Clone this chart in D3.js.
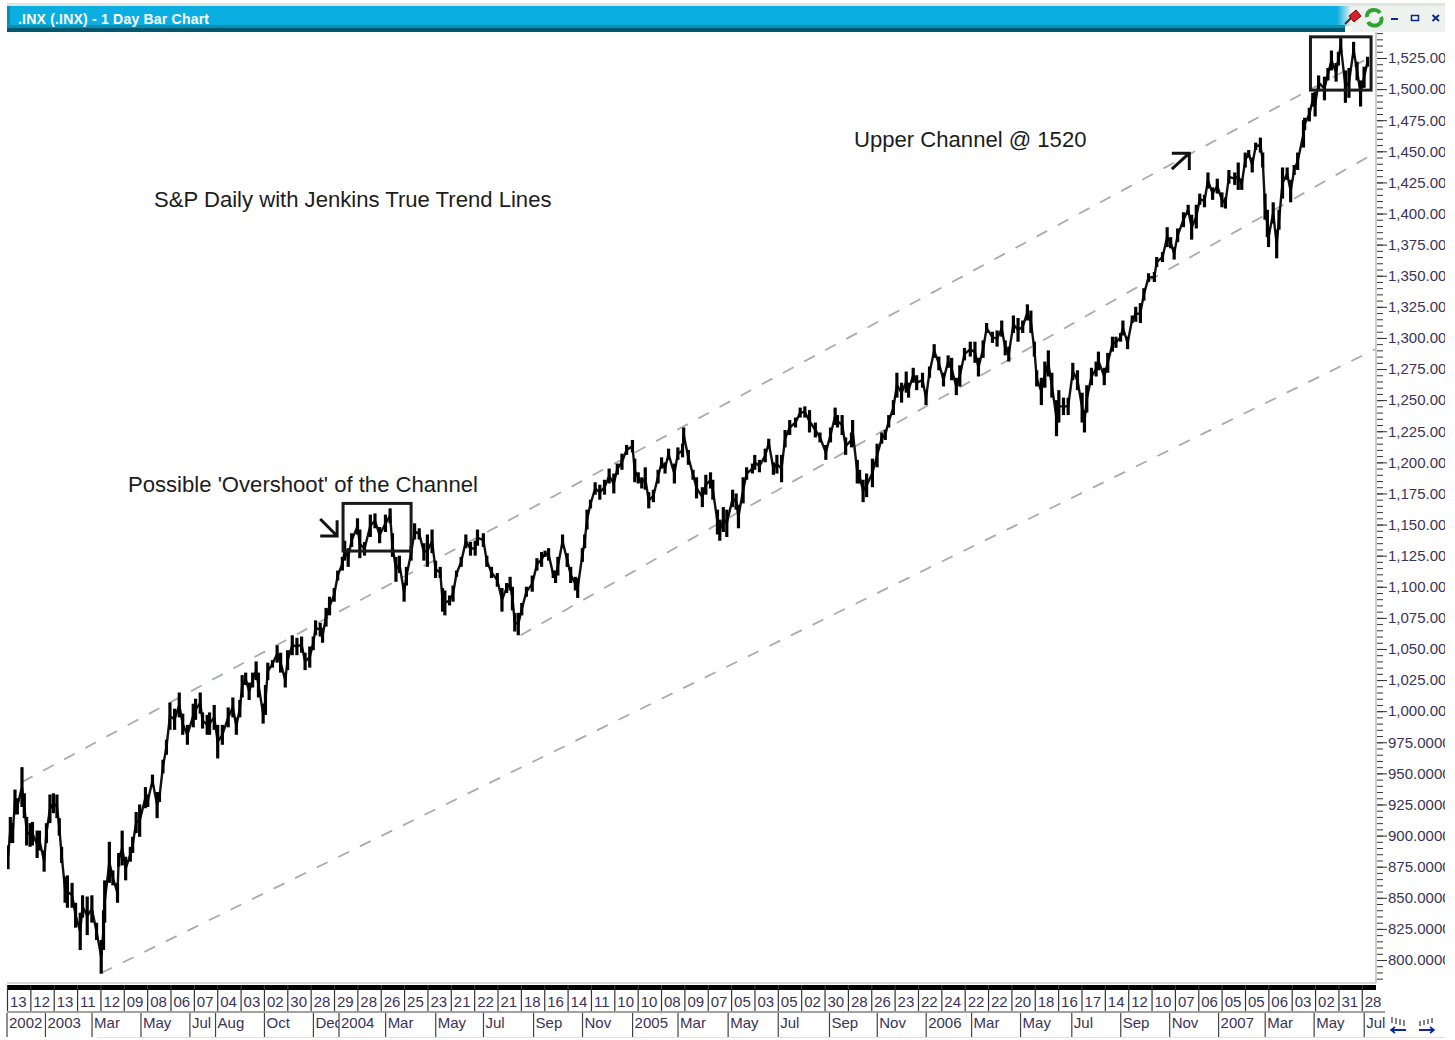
<!DOCTYPE html>
<html><head><meta charset="utf-8">
<script src="https://d3js.org/d3.v7.min.js"></script>
<style>html,body{margin:0;padding:0;background:#fff}svg{display:block}text{font-family:"Liberation Sans",Arial,sans-serif}</style>
</head><body><svg id="c" width="1455" height="1040"></svg>
<script>
// [session, high, low], kept as separate lists
const barData = `0,892,873 2,915,894 4,910,894 6,937,917 8,930,917 12,955,923 14,934,914 16,915,892 19,910,891 21,911,892 25,904,882 27,904,888 31,888,871 33,910,894 36,933,910 39,934,918 42,933,914 44,914,900 46,891,878 49,867,846 51,868,842 55,862,842 58,846,826 62,838,808 64,852,834 68,851,820 72,852,830 76,830,816 80,816,789 82,840,808 83,864,830 87,895,862 90,872,860 94,862,846 95,886,875 98,904,876 101,883,864 105,891,879 107,899,886 110,919,902 113,925,899 118,939,922 120,933,923 124,949,939 128,935,914 130,935,927 133,961,950 136,977,965 139,1007,985 143,1002,985 147,1015,995 150,998,981 154,989,973 159,1006,987 161,1010,993 165,1015,998 167,999,986 171,997,981 173,999,981 177,1005,985 180,989,962 184,989,973 189,1003,987 193,1011,995 196,995,981 199,1009,995 201,1029,1011 204,1031,1021 207,1023,1009 210,1031,1019 213,1040,1025 215,1031,1011 219,1006,990 221,1021,997 223,1039,1025 227,1041,1035 231,1053,1039 234,1047,1031 238,1031,1019 240,1049,1033 244,1061,1045 248,1059,1045 252,1060,1047 255,1047,1033 259,1052,1035 262,1060,1049 264,1073,1061 268,1071,1060 270,1067,1055 273,1083,1068 276,1092,1077 280,1099,1088 283,1113,1105 287,1124,1113 289,1137,1121 292,1131,1116 295,1143,1132 300,1155,1142 302,1146,1123 306,1136,1125 311,1158,1140 315,1159,1147 319,1148,1135 324,1158,1144 328,1163,1151 330,1143,1124 333,1124,1104 336,1125,1111 340,1103,1088 342,1116,1101 346,1133,1121 349,1151,1138 353,1147,1138 357,1135,1121 360,1142,1116 364,1146,1127 367,1121,1107 371,1116,1107 373,1099,1080 375,1097,1077 379,1093,1085 382,1101,1088 385,1113,1108 389,1124,1116 393,1142,1131 397,1136,1125 401,1137,1125 403,1146,1133 408,1143,1132 411,1125,1116 415,1116,1107 420,1111,1100 424,1099,1080 428,1103,1095 431,1108,1097 433,1100,1081 435,1079,1064 438,1079,1061 441,1087,1077 445,1100,1092 450,1109,1096 454,1123,1113 458,1128,1116 461,1129,1124 464,1131,1121 468,1113,1107 470,1113,1103 472,1124,1109 476,1142,1131 480,1127,1116 483,1116,1103 487,1108,1097 489,1107,1091 493,1131,1120 495,1142,1131 497,1162,1146 500,1170,1163 504,1184,1174 508,1182,1170 512,1186,1174 516,1195,1183 520,1191,1175 523,1199,1190 527,1207,1194 531,1214,1206 536,1218,1208 538,1203,1184 541,1192,1183 544,1188,1179 547,1196,1178 550,1176,1163 554,1178,1168 558,1194,1183 561,1204,1195 564,1200,1191 567,1211,1202 572,1199,1183 575,1212,1202 579,1215,1204 580,1228,1216 584,1210,1198 588,1194,1186 591,1188,1171 596,1180,1164 599,1190,1174 603,1192,1179 605,1186,1170 609,1162,1142 611,1154,1137 614,1164,1144 617,1162,1140 622,1178,1164 625,1175,1162 627,1166,1147 631,1188,1167 634,1196,1186 639,1199,1191 641,1206,1194 645,1202,1192 650,1211,1200 653,1219,1212 657,1200,1190 660,1206,1191 664,1206,1184 667,1226,1212 671,1234,1222 676,1236,1228 680,1244,1236 684,1245,1236 688,1242,1224 693,1232,1220 697,1224,1216 702,1214,1202 706,1228,1216 710,1244,1230 712,1238,1228 716,1238,1222 719,1220,1206 724,1224,1212 725,1234,1216 729,1202,1183 731,1194,1183 734,1186,1168 737,1191,1172 742,1203,1180 746,1215,1196 750,1224,1215 753,1226,1218 756,1238,1228 760,1250,1238 763,1272,1252 767,1264,1248 771,1273,1256 773,1264,1252 777,1276,1264 780,1270,1258 785,1272,1260 788,1258,1246 791,1277,1268 795,1295,1284 799,1285,1274 803,1272,1261 807,1286,1276 810,1284,1266 814,1268,1254 817,1278,1261 821,1292,1282 826,1297,1285 830,1297,1280 833,1284,1269 837,1298,1284 840,1312,1304 845,1305,1296 849,1306,1293 853,1314,1301 856,1298,1286 859,1293,1281 863,1318,1304 867,1316,1297 871,1314,1304 875,1327,1314 878,1322,1304 881,1297,1285 883,1274,1261 887,1268,1246 890,1281,1260 893,1290,1269 896,1272,1252 900,1250,1221 902,1258,1232 906,1252,1238 910,1252,1238 914,1280,1266 918,1274,1258 922,1256,1232 924,1242,1224 926,1262,1240 930,1276,1262 934,1281,1269 936,1289,1274 941,1276,1262 944,1288,1272 948,1301,1289 951,1301,1292 955,1304,1297 957,1314,1302 961,1301,1291 965,1318,1312 968,1325,1313 972,1328,1312 975,1340,1330 979,1352,1345 984,1353,1345 986,1365,1357 991,1369,1361 995,1389,1373 998,1381,1372 1001,1373,1363 1004,1388,1377 1009,1401,1389 1013,1407,1399 1016,1399,1379 1020,1407,1388 1023,1416,1407 1027,1415,1405 1030,1433,1420 1034,1421,1411 1038,1428,1416 1042,1417,1405 1045,1413,1404 1048,1435,1424 1053,1433,1423 1056,1441,1419 1059,1428,1419 1062,1449,1437 1065,1451,1445 1068,1445,1433 1071,1457,1451 1075,1461,1449 1077,1449,1437 1079,1416,1395 1081,1403,1381 1082,1389,1373 1086,1409,1392 1089,1387,1364 1091,1403,1387 1094,1437,1412 1098,1437,1427 1101,1427,1409 1104,1439,1431 1107,1449,1435 1112,1475,1453 1113,1477,1467 1117,1485,1474 1120,1497,1486 1122,1498,1478 1125,1511,1499 1130,1510,1491 1133,1517,1507 1136,1531,1515 1140,1521,1506 1142,1530,1519 1144,1541,1529 1148,1515,1489 1151,1517,1493 1155,1538,1525 1158,1522,1507 1161,1507,1486 1164,1518,1501 1167,1526,1518`;
const rows = barData.split(" ").map(r => r.split(",").map(Number));
const sessions = rows.map(r => r[0]);
const highs = rows.map(r => r[1]);
const lows = rows.map(r => r[2]);

const priceTicks = d3.range(800, 1526, 25);
const minorTicks = d3.range(785, 1546, 5);
const dayLabels = ["13","12","13","11","12","09","08","06","07","04","03","02","30","28","29","28","26","25","23","21","22","21","18","16","14","11","10","10","08","09","07","05","03","05","02","30","28","26","23","22","24","22","22","20","18","16","17","14","12","10","07","06","05","05","06","03","02","31","28"];
const dayStep = 20.05;
const monthLabels = ["2002","2003","Mar","May","Jul","Aug","Oct","Dec","2004","Mar","May","Jul","Sep","Nov","2005","Mar","May","Jul","Sep","Nov","2006","Mar","May","Jul","Sep","Nov","2007","Mar","May","Jul"];
const monthSessions = [0,33,73,115,157,179,221,263,285,325,368,409,452,494,537,576,619,662,706,747,789,828,870,914,956,998,1040,1080,1122,1165];
// trend lines: [session, price] ends
const trendLines = [
  [[12,943],[1170,1526]],
  [[440,1061],[1174,1449]],
  [[80,789.5],[1174,1291]]
];
const boxes = [
  {s0:287.6,s1:346,hi:1167,lo:1128.7},
  {s0:1118,s1:1170,hi:1542,lo:1499.2}
];
const arrows = [
  {from:[268,1154.5],to:[282.5,1140.8],corner:[[282.5,1153.5],[268,1140.8]]},
  {from:[999,1435.7],to:[1014,1448.5],corner:[[999,1448.5],[1014,1435]]}
];
const notes = [
  {t:"S&P Daily with Jenkins True Trend Lines",x:154,y:207},
  {t:"Upper Channel @ 1520",x:854,y:147},
  {t:"Possible 'Overshoot' of the Channel",x:128,y:492}
];

const svg = d3.select("#c");
const x = d3.scaleLinear().domain([0,1167]).range([8,8+1.165*1167]);
const y = d3.scaleLinear().domain([800,1525]).range([960,58]);

// title bar
const defs = svg.append("defs");
const g1 = defs.append("linearGradient").attr("id","fade");
g1.append("stop").attr("offset",0).attr("stop-color","#0aaee0");
g1.append("stop").attr("offset",1).attr("stop-color","#e9efea");
defs.append("clipPath").attr("id","axClip").append("rect").attr("x",1376).attr("y",32).attr("width",69).attr("height",960);
defs.append("clipPath").attr("id","plotClip").append("rect").attr("x",7).attr("y",32).attr("width",1369).attr("height",950);

svg.append("rect").attr("x",7).attr("y",3).attr("width",1438).attr("height",3).attr("fill","#dfe6df");
svg.append("rect").attr("x",7).attr("y",6).attr("width",1330).attr("height",20).attr("fill","#0aaee0");
svg.append("rect").attr("x",1337).attr("y",6).attr("width",14).attr("height",20).attr("fill","url(#fade)");
svg.append("rect").attr("x",1351).attr("y",6).attr("width",94).attr("height",26).attr("fill","#eef2ee");
svg.append("rect").attr("x",7).attr("y",25).attr("width",1338).attr("height",3).attr("fill","#0b8fb0");
svg.append("rect").attr("x",7).attr("y",28).attr("width",1338).attr("height",4).attr("fill","#00586e");
svg.append("rect").attr("x",7).attr("y",6).attr("width",3).attr("height",22).attr("fill","#0b8fb0");
svg.append("text").attr("x",18).attr("y",24).attr("fill","#fff").attr("font-size",14).attr("font-weight","bold")
  .attr("textLength",191).text(".INX (.INX) - 1 Day Bar Chart");

// window buttons
svg.append("path").attr("d","M1345 24 L1352 17").attr("stroke","#333").attr("stroke-width",2);
svg.append("path").attr("d","M1349 16 L1356 10 L1361 16 L1354 22 Z").attr("fill","#d8202a").attr("stroke","#700");
svg.append("path").attr("d","M1367 17 A7 6 0 0 1 1380 13").attr("fill","none").attr("stroke","#2fa32f").attr("stroke-width",4);
svg.append("path").attr("d","M1381 17 A7 6 0 0 1 1368 22").attr("fill","none").attr("stroke","#2fa32f").attr("stroke-width",4);
svg.append("rect").attr("x",1391).attr("y",18).attr("width",7).attr("height",2).attr("fill","#0b2a86");
svg.append("rect").attr("x",1411.5).attr("y",15.5).attr("width",7).attr("height",5).attr("fill","none").attr("stroke","#0b2a86").attr("stroke-width",1.5);
svg.append("path").attr("d","M1432.5 15 L1439 21 M1439 15 L1432.5 21").attr("stroke","#0b2a86").attr("stroke-width",2);

// plot
const plot = svg.append("g").attr("clip-path","url(#plotClip)");
plot.selectAll("line.trend").data(trendLines).join("line").attr("class","trend")
  .attr("x1",d=>x(d[0][0])).attr("y1",d=>y(d[0][1])).attr("x2",d=>x(d[1][0])).attr("y2",d=>y(d[1][1]))
  .attr("stroke","#a6aea6").attr("stroke-width",1.8).attr("stroke-dasharray","12 12");

const mid = sessions.map((s,i)=>[s,(highs[i]+lows[i])/2]);
plot.append("path").attr("d",d3.line().x(d=>x(d[0])).y(d=>y(d[1]))(mid))
  .attr("fill","none").attr("stroke","#111").attr("stroke-width",2.4);
plot.selectAll("line.bar").data(sessions).join("line").attr("class","bar")
  .attr("x1",d=>x(d)).attr("x2",d=>x(d))
  .attr("y1",(d,i)=>y(highs[i])).attr("y2",(d,i)=>y(lows[i]))
  .attr("stroke","#000").attr("stroke-width",3.2);

// boxes, arrows, notes
svg.selectAll("rect.box").data(boxes).join("rect").attr("class","box")
  .attr("x",d=>x(d.s0)).attr("width",d=>x(d.s1)-x(d.s0))
  .attr("y",d=>y(d.hi)).attr("height",d=>y(d.lo)-y(d.hi))
  .attr("fill","none").attr("stroke","#1a1a1a").attr("stroke-width",3);
arrows.forEach(a=>{
  const p=([s,v])=>x(s)+","+y(v);
  svg.append("path").attr("d","M"+p(a.from)+"L"+p(a.to)+"M"+p(a.corner[0])+"L"+p(a.to)+"L"+p(a.corner[1]))
    .attr("fill","none").attr("stroke","#111").attr("stroke-width",3);
});
svg.selectAll("text.note").data(notes).join("text").attr("class","note")
  .attr("x",d=>d.x).attr("y",d=>d.y).attr("font-size",22.1).attr("fill","#1c1c1c").text(d=>d.t);

// y axis
svg.append("line").attr("x1",1376).attr("x2",1376).attr("y1",32).attr("y2",983).attr("stroke","#bdbdbd").attr("stroke-width",1.5);
const fmtP = v => v>=1000 ? d3.format(",.2f")(v) : d3.format(".4f")(v);
const axG = svg.append("g").attr("clip-path","url(#axClip)");
const minorAxis = axG.append("g").attr("transform","translate(1377,0)")
  .call(d3.axisRight(y).tickValues(minorTicks).tickSize(6).tickFormat(""));
minorAxis.select(".domain").remove();
minorAxis.selectAll("line").attr("stroke","#333");
const majorAxis = axG.append("g").attr("transform","translate(1377,0)")
  .call(d3.axisRight(y).tickValues(priceTicks).tickSize(10).tickPadding(1).tickFormat(fmtP));
majorAxis.select(".domain").remove();
majorAxis.selectAll("line").attr("stroke","#333");
majorAxis.selectAll("text").attr("font-size",15).attr("fill","#3a3358").attr("font-family",'"Liberation Sans",Arial,sans-serif');

// x axis rows
svg.append("line").attr("x1",7).attr("x2",1376).attr("y1",983).attr("y2",983).attr("stroke","#c8c8c8").attr("stroke-width",1.5);
svg.append("rect").attr("x",7).attr("y",985).attr("width",1369).attr("height",5).attr("fill","#000");
const dayG = svg.append("g");
dayG.selectAll("line").data(dayLabels).join("line")
  .attr("x1",(d,i)=>x(i*dayStep)-0.5).attr("x2",(d,i)=>x(i*dayStep)-0.5).attr("y1",985).attr("y2",1011)
  .attr("stroke","#333").attr("stroke-width",1.2);
dayG.selectAll("text").data(dayLabels).join("text")
  .attr("x",(d,i)=>x(i*dayStep)+2).attr("y",1007).attr("font-size",15).attr("fill","#3a3358").text(d=>d);
svg.append("line").attr("x1",7).attr("x2",1385).attr("y1",1012).attr("y2",1012).attr("stroke","#444").attr("stroke-width",1.2);
const mo = svg.append("g").selectAll("g").data(monthLabels).join("g")
  .attr("transform",(d,i)=>`translate(${x(monthSessions[i])-1},1013)`);
mo.append("rect").attr("width",(d,i)=>(i<monthLabels.length-1?x(monthSessions[i+1])-x(monthSessions[i]):20)).attr("height",24).attr("fill","#fff");
mo.append("line").attr("y1",0).attr("y2",24).attr("stroke","#444").attr("stroke-width",1.2);
mo.append("text").attr("x",2).attr("y",15).attr("font-size",15).attr("fill","#3a3358").text(d=>d);

// scroll icons
[1391,1419].forEach((ox,k)=>{
  const ic=svg.append("g").attr("transform",`translate(${ox},1016)`);
  ic.selectAll("line").data([1,5,9,13]).join("line").attr("x1",d=>d).attr("x2",d=>d)
    .attr("y1",(d,i)=>k? 5-i : 1+i).attr("y2",(d,i)=>k? 10-i : 7+i).attr("stroke","#333").attr("stroke-width",1.2);
  ic.append("line").attr("x1",0).attr("x2",15).attr("y1",14).attr("y2",14).attr("stroke","#0b2a96").attr("stroke-width",2);
  ic.append("path").attr("d",k?"M11 11 L15 14 L11 17":"M4 11 L0 14 L4 17").attr("fill","none").attr("stroke","#0b2a96").attr("stroke-width",1.6);
});
// faint base
svg.append("line").attr("x1",97).attr("x2",1445).attr("y1",1037.5).attr("y2",1037.5).attr("stroke","#dde3e3");
</script></body></html>
